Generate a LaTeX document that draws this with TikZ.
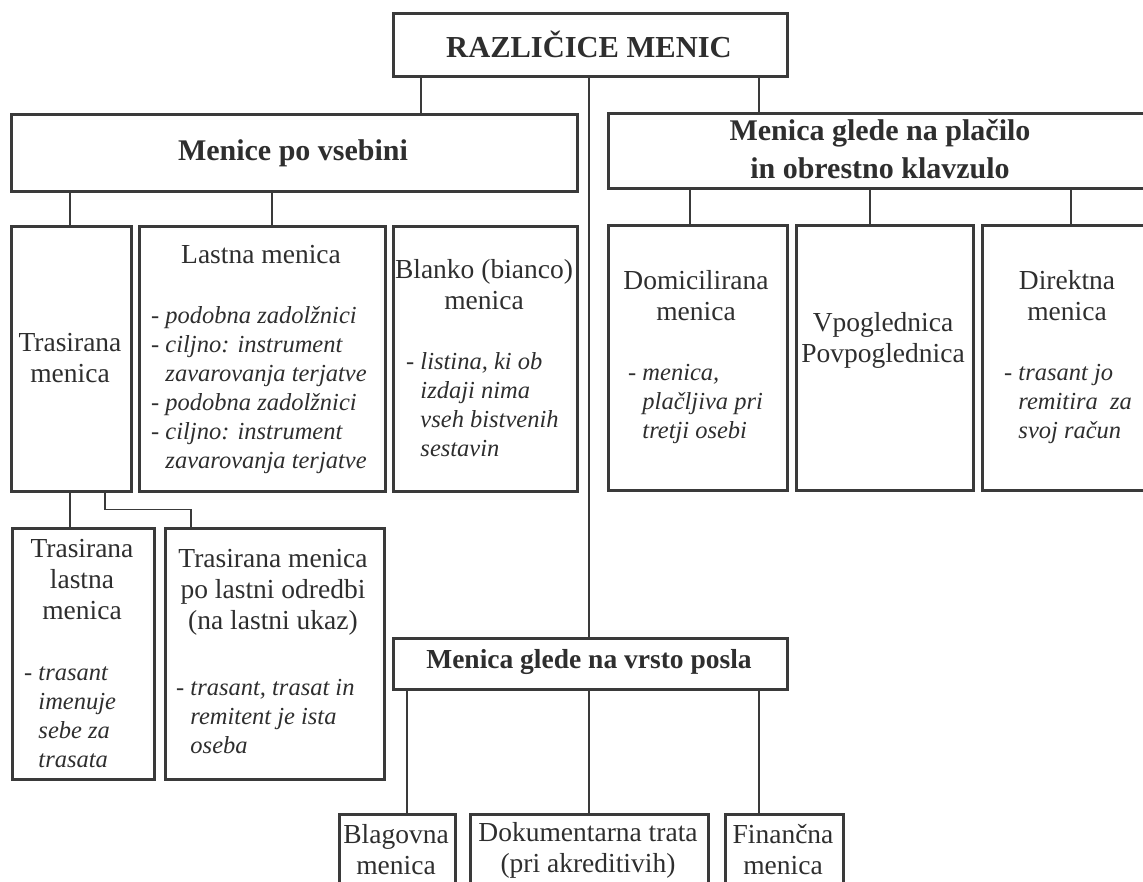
\documentclass[tikz,border=0pt]{standalone}
\usepackage{fontspec}
\setmainfont{Liberation Serif}
\usetikzlibrary{positioning}
\definecolor{ink}{HTML}{2E2E2E}
\definecolor{frame}{HTML}{3A3A3A}
\tikzset{
  >=latex,
  x=1pt,y=-1pt,
}
\tikzstyle{box}=[draw=frame,line width=2.6pt,anchor=north west,inner sep=0pt]
\tikzstyle{link}=[draw=frame,line width=1.3pt]
\tikzstyle{head}=[font=\fontsize{30}{38}\selectfont\bfseries,text=ink,align=center,inner sep=0pt]
\tikzstyle{title}=[font=\fontsize{27.5}{31}\selectfont,text=ink,align=center,inner sep=0pt]
\tikzstyle{note}=[font=\fontsize{24.5}{29}\selectfont\itshape,text=ink,align=left,anchor=west,inner sep=0pt]
\newcommand{\bx}[5]{\node[box,minimum width=#4pt,minimum height=#5pt] (#1) at (#2,#3) {};}
\newcommand{\dash}{{\upshape -} }
\newcommand{\ind}{\phantom{\upshape - }}
\begin{document}
\begin{tikzpicture}
  \useasboundingbox (0,0) rectangle (1143,881);
  % boxes
  \bx{razl}{392}{12}{394}{63}
  \bx{vseb}{10}{113}{566}{77}
  \bx{plac}{607}{112}{546}{75}
  \bx{tras}{10}{225}{120}{265}
  \bx{last}{138}{225}{246}{265}
  \bx{blan}{392}{225}{184}{265}
  \bx{domi}{607}{224}{179}{265}
  \bx{vpog}{795}{224}{177}{265}
  \bx{dir}{981}{224}{172}{265}
  \bx{trl}{11}{527}{142}{251}
  \bx{trpo}{164}{527}{219}{251}
  \bx{posla}{392}{637}{394}{51}
  \bx{blag}{338}{813}{116}{100}
  \bx{dok}{469}{813}{238}{100}
  \bx{fin}{724}{813}{118}{100}
  % texts
  \node[head,font=\fontsize{30.5}{34}\selectfont\bfseries] (t-razl) at (589,44) {RAZLIČICE MENIC};
  \node[head] (t-vseb) at (293,153) {Menice po vsebini};
  \node[head] (t-plac) at (880,149) {Menica glede na plačilo\\in obrestno klavzulo};
  \node[title] (t-tras) at (70,358) {Trasirana\\menica};
  \node[title] (t-last) at (261,255) {Lastna menica};
  \node[note] (n-last) at (151,390) {\dash podobna zadolžnici\\\dash ciljno: instrument\\\ind zavarovanja terjatve\\\dash podobna zadolžnici\\\dash ciljno: instrument\\\ind zavarovanja terjatve};
  \node[title] (t-blan) at (484,285) {Blanko (bianco)\\menica};
  \node[note] (n-blan) at (406,405) {\dash listina, ki ob\\\ind izdaji nima\\\ind vseh bistvenih\\\ind sestavin};
  \node[title] (t-domi) at (696,296) {Domicilirana\\menica};
  \node[note] (n-domi) at (628,404) {\dash menica,\\\ind plačljiva pri\\\ind tretji osebi};
  \node[title] (t-vpog) at (883,340) {Vpoglednica\\Povpoglednica};
  \node[title] (t-dir) at (1067,296) {Direktna\\menica};
  \node[note] (n-dir) at (1004,404) {\dash trasant jo\\\ind remitira\ \ za\\\ind svoj račun};
  \node[title] (t-trl) at (82,580) {Trasirana\\lastna\\menica};
  \node[note] (n-trl) at (24,717) {\dash trasant\\\ind imenuje\\\ind sebe za\\\ind trasata};
  \node[title] (t-trpo) at (273,592) {Trasirana menica\\po lastni odredbi\\(na lastni ukaz)};
  \node[note] (n-trpo) at (176,717) {\dash trasant, trasat in\\\ind remitent je ista\\\ind oseba};
  \node[head,font=\fontsize{27.5}{32}\selectfont\bfseries] (t-posla) at (589,662) {Menica glede na vrsto posla};
  \node[title] (t-blag) at (396,850) {Blagovna\\menica};
  \node[title] (t-dok) at (588,850) {Dokumentarna trata\\(pri akreditivih)};
  \node[title] (t-fin) at (783,850) {Finančna\\menica};
  % connectors
  \coordinate (k1) at (421,0);
  \coordinate (k2) at (589,0);
  \coordinate (k3) at (759,0);
  \coordinate (k4) at (70,0);
  \coordinate (k5) at (272,0);
  \coordinate (k6) at (690,0);
  \coordinate (k7) at (870,0);
  \coordinate (k8) at (1071,0);
  \coordinate (k9) at (105,0);
  \coordinate (k10) at (191,0);
  \coordinate (k11) at (407,0);
  \draw[link] (razl.south -| k1) -- (vseb.north -| k1);
  \draw[link] (razl.south -| k3) -- (plac.north -| k3);
  \draw[link] (razl.south -| k2) -- (posla.north -| k2);
  \draw[link] (vseb.south -| k4) -- (tras.north -| k4);
  \draw[link] (vseb.south -| k5) -- (last.north -| k5);
  \draw[link] (plac.south -| k6) -- (domi.north -| k6);
  \draw[link] (plac.south -| k7) -- (vpog.north -| k7);
  \draw[link] (plac.south -| k8) -- (dir.north -| k8);
  \draw[link] (tras.south -| k4) -- (trl.north -| k4);
  \draw[link] (tras.south -| k9) -- ++(0,17) -| (trpo.north -| k10);
  \draw[link] (posla.south -| k11) -- (blag.north -| k11);
  \draw[link] (posla.south -| k2) -- (dok.north -| k2);
  \draw[link] (posla.south -| k3) -- (fin.north -| k3);
\end{tikzpicture}
\end{document}
